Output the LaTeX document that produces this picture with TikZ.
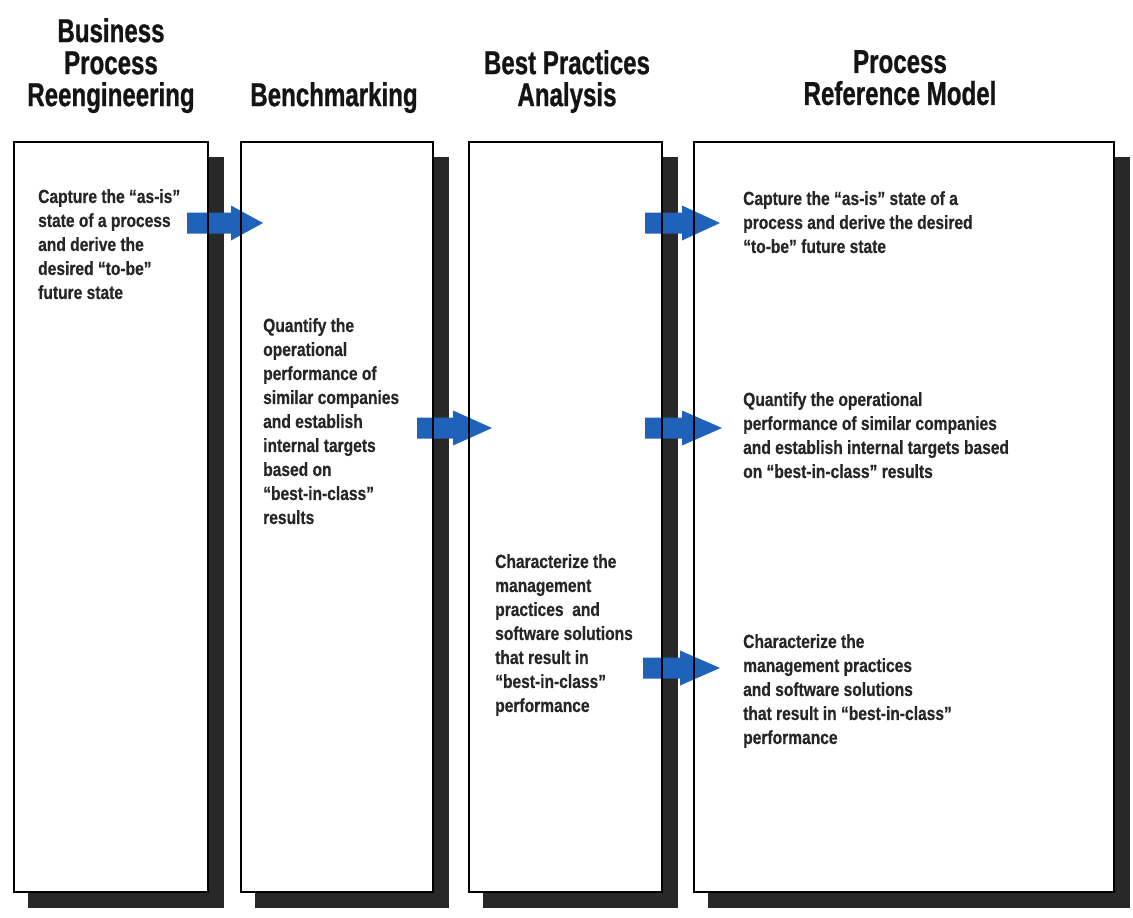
\documentclass[tikz,border=0pt]{standalone}
\usepackage{fontspec}
\usetikzlibrary{calc}
\newfontfamily\titlefont{Liberation Sans Bold}[FakeStretch=0.73,FakeBold=0.8]
\newfontfamily\bodyfont{Liberation Sans Bold}[FakeStretch=0.82,FakeBold=0.5]
\definecolor{arrowblue}{RGB}{32,98,186}
\definecolor{shadowgray}{RGB}{40,40,40}
\pgfdeclarelayer{background}
\pgfdeclarelayer{arrowlayer}
\pgfsetlayers{background,arrowlayer,main}
\newcommand\barrow[4]{%
  \fill[blockarrow] (#1,#4-10.5) -- (#2,#4-10.5) -- (#2,#4-17.5) -- (#3,#4)
    -- (#2,#4+17.5) -- (#2,#4+10.5) -- (#1,#4+10.5) -- cycle;}
\newcommand\boxbg[1]{%
  \fill[shadowgray] ($(#1.north west)+(15,16)$) rectangle ($(#1.south east)+(15,15)$);
  \fill[white] (#1.north west) rectangle (#1.south east);}
\begin{document}
\begin{tikzpicture}[x=1pt,y=-1pt,
  box/.style={draw=black, line width=1.8pt, inner sep=0pt, anchor=north west},
  ttl/.style={font=\titlefont\fontsize{33}{32}\selectfont, align=center, anchor=north, inner sep=0pt, text=black!92},
  body/.style={font=\bodyfont\fontsize{19}{24}\selectfont, align=left, anchor=north west, inner sep=0pt, text=black!85},
  blockarrow/.style={fill=arrowblue}]
\useasboundingbox (0,0) rectangle (1133,918);

% boxes
\node[box, minimum width=194pt, minimum height=750pt] (b1) at (13,141) {};
\node[box, minimum width=192pt, minimum height=750pt] (b2) at (240,141) {};
\node[box, minimum width=193pt, minimum height=750pt] (b3) at (468,141) {};
\node[box, minimum width=420pt, minimum height=750pt] (b4) at (693,141) {};

\begin{pgfonlayer}{background}
  \fill[white] (0,0) rectangle (1133,918);
  \boxbg{b1}\boxbg{b2}\boxbg{b3}\boxbg{b4}
\end{pgfonlayer}

% arrows
\begin{pgfonlayer}{arrowlayer}
  \barrow{187}{231}{263}{223}
  \barrow{417}{453}{492}{428}
  \barrow{645}{682}{722}{428}
  \barrow{645}{682}{720}{223}
  \barrow{643}{680}{720}{668}
\end{pgfonlayer}

% titles
\node[ttl] (t1) at (111,18) {Business\\Process\\Reengineering};
\node[ttl] (t2) at (334,82) {Benchmarking};
\node[ttl] (t3) at (567,50) {Best Practices\\Analysis};
\node[ttl] (t4) at (900,50) {Process\\Reference Model};

% body texts
\node[body] (x1) at (38,189) {Capture the “as-is”\\state of a process\\and derive the\\desired “to-be”\\future state};
\node[body] (x2) at (263,318) {Quantify the\\operational\\performance of\\similar companies\\and establish\\internal targets\\based on\\“best-in-class”\\results};
\node[body] (x3) at (495,554) {Characterize the\\management\\practices\ \ and\\software solutions\\that result in\\“best-in-class”\\performance};
\node[body] (x4) at (743,191) {Capture the “as-is” state of a\\process and derive the desired\\“to-be” future state};
\node[body] (x5) at (743,392) {Quantify the operational\\performance of similar companies\\and establish internal targets based\\on “best-in-class” results};
\node[body] (x6) at (743,634) {Characterize the\\management practices\\and software solutions\\that result in “best-in-class”\\performance};
\end{tikzpicture}
\end{document}
